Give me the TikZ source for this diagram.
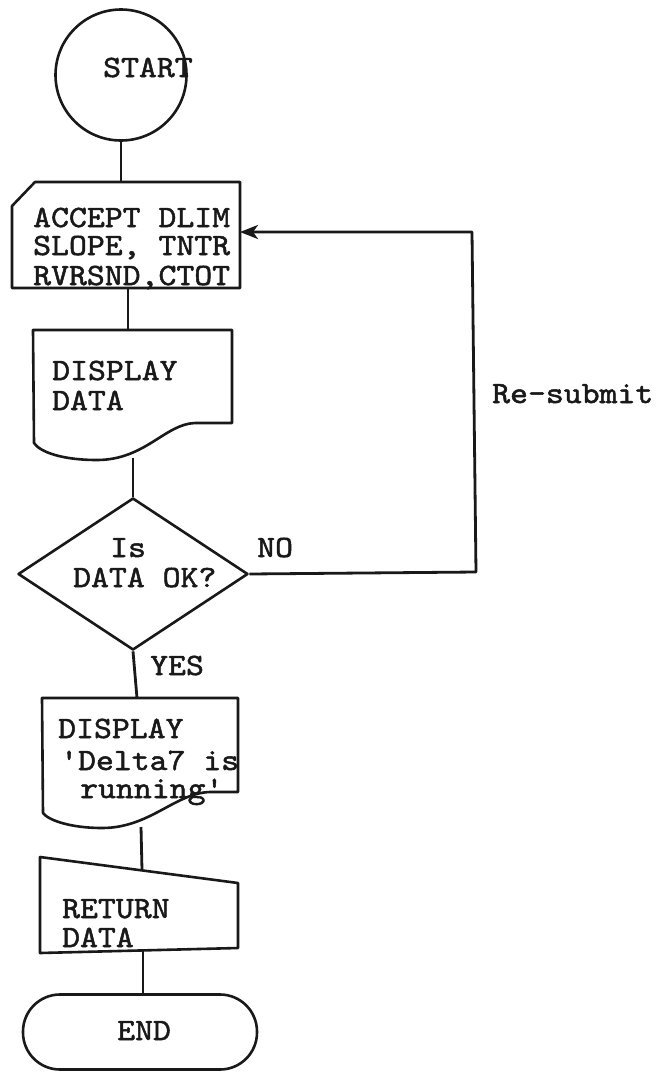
\documentclass[tikz,border=0pt]{standalone}
\usepackage{fontspec}
\usetikzlibrary{shapes.geometric,arrows.meta}
\newfontfamily\typewriterfam{lmmono10-regular.otf}[FakeStretch=1.1,FakeBold=1.6]
\newcommand{\typefont}{\typewriterfam\fontsize{31}{31}\selectfont}
\begin{document}
\begin{tikzpicture}[x=1pt,y=-1pt,
  line join=round,
  shapeline/.style={draw=black!90, line width=2.6pt},
  frame/.style={inner sep=0pt, outer sep=0pt},
  txt/.style={anchor=base west, inner sep=0pt, text=black!90, font=\typefont},
  conn/.style={draw=black!90, line width=2.8pt},
  arr/.style={conn, -{Stealth[length=18pt,width=14pt,inset=5pt]}}]
\useasboundingbox[fill=white] (0,0) rectangle (660,1072);

% START circle
\node[circle, shapeline, minimum size=131pt, inner sep=0pt] (start) at (121,75) {};
\node[txt] (startt) at (103,77) {START};

% ACCEPT card
\node[frame, minimum width=228pt, minimum height=106pt] (acc) at (126,235) {};
\draw[shapeline] ([xshift=23pt]acc.north west) -- (acc.north east) -- (acc.south east) -- (acc.south west) -- ([yshift=-24pt]acc.north west) -- cycle;
\node[txt] (acc1) at (33,227) {ACCEPT DLIM};
\node[txt] (acc2) at (33,255) {SLOPE, TNTR};
\node[txt] (acc3) at (33,285) {RVRSND,CTOT};

% DISPLAY DATA document
\node[frame, minimum width=199pt, minimum height=130pt] (disp1) at (132.5,395) {};
\draw[shapeline] (33,330) -- (232,330) -- (232,423) -- (195,423)
  .. controls (165,424) and (145,460) .. (97,460)
  .. controls (62,460) and (40,452) .. (34,443) -- cycle;
\node[txt] (d1a) at (52,380) {DISPLAY};
\node[txt] (d1b) at (52,410) {DATA};

% Decision
\node[diamond, shapeline, minimum width=230pt, minimum height=152pt, inner sep=0pt] (dec) at (133,574) {};
\node[txt] (deca) at (110,557) {Is};
\node[txt] (decb) at (73,587) {DATA OK?};
\node[txt] (no) at (257,557) {NO};
\node[txt] (yes) at (150,675) {YES};

% DISPLAY Delta7 document
\node[frame, minimum width=196pt, minimum height=130pt] (disp2) at (140,763) {};
\draw[shapeline] (42,698) -- (238,698) -- (238,792) -- (210,792)
  .. controls (175,793) and (150,828) .. (102,828)
  .. controls (70,828) and (48,820) .. (43,813) -- cycle;
\node[txt] (d2a) at (58,738) {DISPLAY};
\node[txt] (d2b) at (60,770) {'Delta7 is};
\node[txt] (d2c) at (80,798) {running'};

% RETURN DATA manual input
\node[frame, minimum width=198pt, minimum height=96pt] (ret) at (139,905) {};
\draw[shapeline] (40,857) -- (238,883) -- (238,948) -- (40,953) -- cycle;
\coordinate (rettop) at (142,870);
\node[txt] (reta) at (62,918) {RETURN};
\node[txt] (retb) at (62,947) {DATA};

% END terminal
\node[shapeline, rounded corners=37pt, minimum width=234pt, minimum height=75pt, inner sep=0pt] (end) at (140,1032) {};
\node[txt] (endt) at (117,1040) {END};

% Re-submit label
\node[txt] (resub) at (492,403) {Re-submit};

% connectors
\coordinate (accb) at (128,288);
\coordinate (d1t) at (128,330);
\coordinate (d1bot) at (133,458);
\coordinate (d2t) at (137,698);
\coordinate (d2bot) at (141,827);
\coordinate (retb0) at (143,950);
\coordinate (loopbr) at (476,572);
\coordinate (looptr) at (472,232);
\coordinate (accin) at (240,232);

\draw[conn] (start.south) -- (start.south |- acc.north);
\draw[conn] (accb) -- (d1t);
\draw[conn] (d1bot) -- (dec.north);
\draw[conn] (dec.south) -- (d2t);
\draw[conn] (d2bot) -- (rettop);
\draw[conn] (retb0) -- (retb0 |- end.north);
\draw[arr] (dec.east) -- (loopbr) -- (looptr) -- (accin);
\end{tikzpicture}
\end{document}
